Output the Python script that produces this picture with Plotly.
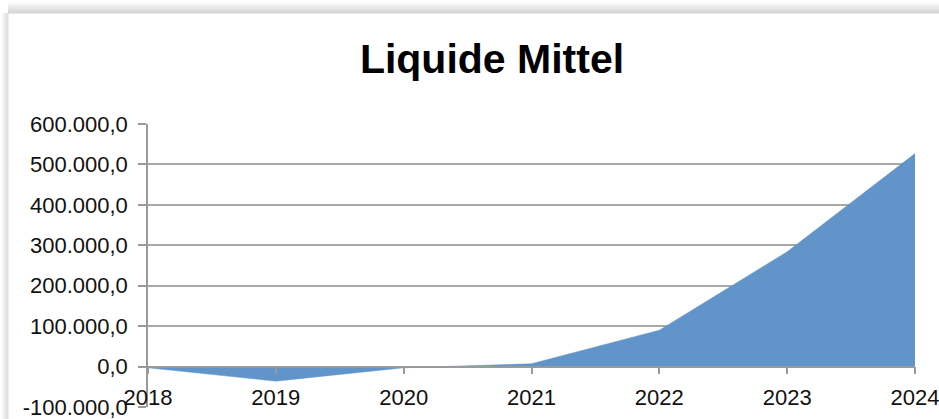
import plotly.graph_objects as go

years = [2018, 2019, 2020, 2021, 2022, 2023, 2024]
liquide_mittel = [-3000, -36000, -3000, 7000, 90000, 284000, 527000]
y_tickvals = [-100000, 0, 100000, 200000, 300000, 400000, 500000, 600000]
y_ticktext = ["-100.000,0", "0,0", "100.000,0", "200.000,0", "300.000,0",
              "400.000,0", "500.000,0", "600.000,0"]
x_ticktext = [str(y) for y in years]

W, H = 939, 419
L, R, T, B = 148, 915, 124, 407
pw, ph = R - L, B - T

def px(x):
    return (x - L) / pw

def py(y):
    return (B - y) / ph

fig = go.Figure()
fig.add_trace(go.Scatter(
    x=years, y=liquide_mittel, mode="lines", fill="tozeroy",
    line=dict(color="#6194C8", width=0.5), fillcolor="#6194C8",
    hoverinfo="skip", showlegend=False,
))

shapes = []
# frame shadow (top and left)
for i in range(11):
    op = (i + 1) / 11 * 0.28
    shapes.append(dict(type="line", xref="paper", yref="paper",
                       x0=px(8), x1=px(W + 5), y0=py(3 + i), y1=py(3 + i),
                       line=dict(color=f"rgba(90,90,90,{op:.3f})", width=1), layer="below"))
for i in range(7):
    op = (i + 1) / 7 * 0.22
    shapes.append(dict(type="line", xref="paper", yref="paper",
                       x0=px(2 + i), x1=px(2 + i), y0=py(13), y1=py(H + 5),
                       line=dict(color=f"rgba(90,90,90,{op:.3f})", width=1), layer="below"))

fig.update_layout(
    width=W, height=H,
    margin=dict(l=L, r=W - R, t=T, b=H - B, pad=0, autoexpand=False),
    paper_bgcolor="white", plot_bgcolor="white",
    font=dict(family="Liberation Sans, Arial, sans-serif", color="#111111", size=22),
    title=dict(text="<b>Liquide Mittel</b>", x=492 / W, xanchor="center",
               y=1 - 59 / H, yanchor="middle",
               font=dict(size=41, color="#000000")),
    shapes=shapes,
    xaxis=dict(
        range=[years[0], years[-1]], tickvals=years, ticktext=x_ticktext,
        anchor="free", position=1 / 7, automargin=False,
        ticklabeloverflow="allow",
        showline=True, linecolor="#9a9a9a", linewidth=1.5,
        ticks="outside", ticklen=7, tickcolor="#9a9a9a", tickwidth=1.5,
        ticklabelstandoff=4,
        showgrid=False, zeroline=False, tickfont=dict(size=22),
    ),
    yaxis=dict(
        range=[-100000, 600000], tickvals=y_tickvals, ticktext=y_ticktext,
        automargin=False, ticklabeloverflow="allow",
        showline=True, linecolor="#9a9a9a", linewidth=1.5,
        ticks="outside", ticklen=8, tickcolor="#9a9a9a", tickwidth=1.5,
        ticklabelstandoff=6,
        showgrid=True, gridcolor="#a8a8a8", gridwidth=1.5,
        zeroline=True, zerolinecolor="#9a9a9a", zerolinewidth=1.5,
        tickfont=dict(size=22), domain=[0, 1],
    ),
)

fig.write_html(
    "out.html",
    config={"displayModeBar": False},
    post_script="document.body.style.margin='0';document.body.style.overflow='hidden';",
)
